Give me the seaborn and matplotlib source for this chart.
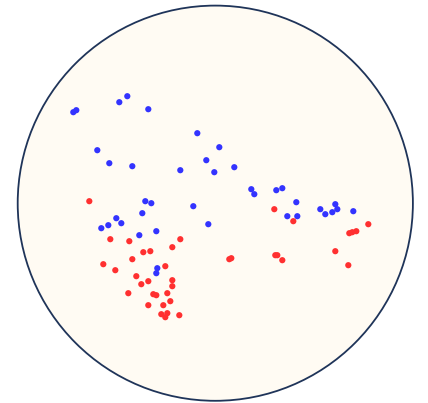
import matplotlib
matplotlib.use("Agg")
import matplotlib.pyplot as plt
from matplotlib.patches import Circle
import pandas as pd
import seaborn as sns

# Embedded coordinates of the two groups (disk centred at origin, radius ~198)
blue_x = [-142, -139, -96, -88, -67, -18, -118, 4, -106, -83, -9, -35, -1, 19,
          -70, -64, -22, -99, -94, -107, -114, -73, -7, -76, -59, -58, -59,
          36, 39, 61, 67, 81, 72, 82, 105, 110, 117, 120, 122, 138]
blue_y = [91, 93, 101, 107, 94, 70, 53, 56, 40, 37, 43, 33, 31, 36,
          2, 0, -3, -15, -20, -22, -25, -10, -21, -32, -28, -65, -70,
          14, 9, 13, 15, 1, -13, -13, -6, -11, -9, -1, -6, -8]
red_x = [-126, -105, -86, -35, -43, -72, -65, -83, -112, -100, -50, -79, -67,
         -74, -43, -43, -87, -62, -59, -48, -45, -52, -67, -54, -48, -50, -36,
         59, 78, 153, 134, 137, 141, 14, 16, 60, 62, 67, 120, 133]
red_y = [2, -36, -38, -36, -44, -49, -48, -56, -61, -67, -63, -73, -78,
         -81, -77, -83, -90, -91, -92, -90, -98, -102, -102, -111, -110, -114, -112,
         -6, -18, -21, -30, -29, -28, -56, -55, -52, -52, -57, -48, -62]

df = pd.DataFrame({
    "x": blue_x + red_x,
    "y": blue_y + red_y,
    "group": ["blue"] * len(blue_x) + ["red"] * len(red_x),
})

sns.set_style("white")
fig = plt.figure(figsize=(4.28, 4.03), dpi=100)
ax = fig.add_axes([0, 0, 1, 1])
ax.set_xlim(-215.3, 212.7)
ax.set_ylim(-199.8, 203.2)
ax.set_aspect("equal")
ax.axis("off")

disk = Circle((0, 0), 197.6, facecolor="#fffbf3", edgecolor="#1f3459",
              linewidth=1.3, zorder=0)
ax.add_patch(disk)

sns.scatterplot(data=df, x="x", y="y", hue="group",
                palette={"blue": "#3333ff", "red": "#ff3030"},
                s=20, linewidth=0, legend=False, ax=ax, zorder=2)
ax.axis("off")

fig.savefig("out.png", dpi=100, facecolor="white")
